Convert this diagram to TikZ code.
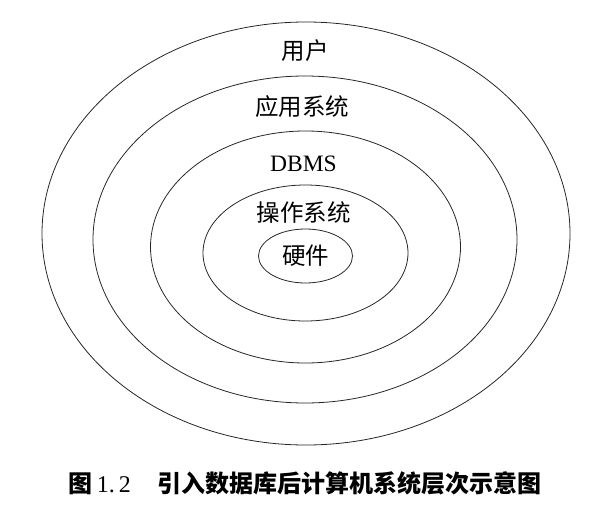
\documentclass[tikz,border=0pt]{standalone}
\usepackage{fontspec}
\setmainfont{Liberation Serif}
\newfontfamily\cjk{Noto Sans CJK SC}
\usetikzlibrary{shapes.geometric}

\begin{document}
\begin{tikzpicture}[x=1pt,y=-1pt,
	layer/.style={draw=black!85,shape=ellipse,inner sep=0pt,line width=0.8pt},
	font=\fontsize{23.5pt}{28pt}\selectfont]
	\useasboundingbox (0,0) rectangle (603,509);
	\draw (306,233.5) node (user) [layer,minimum width=528,minimum height=423] {};
	\draw (305,239.5) node (app) [layer,minimum width=424,minimum height=327] {};
	\draw (305.5,247) node (dbms) [layer,minimum width=310,minimum height=232] {};
	\draw (305.5,253) node (os) [layer,minimum width=205,minimum height=136] {};
	\draw (305.5,256) node (hw) [layer,minimum width=94,minimum height=54] {\cjk 硬件};
	\node (userlbl) at (305,51) {\cjk 用户};
	\node (applbl) at (302,106.5) {\cjk 应用系统};
	\node (dbmslbl) at (303.5,163.5) {DBMS};
	\node (oslbl) at (303.5,212.5) {\cjk 操作系统};
	\node (caption) at (305,483) {\fontsize{24pt}{28pt}\selectfont{\cjk\bfseries 图}\,1.\,2\hspace{1.1em}{\cjk\bfseries 引入数据库后计算机系统层次示意图}};
\end{tikzpicture}
\end{document}
